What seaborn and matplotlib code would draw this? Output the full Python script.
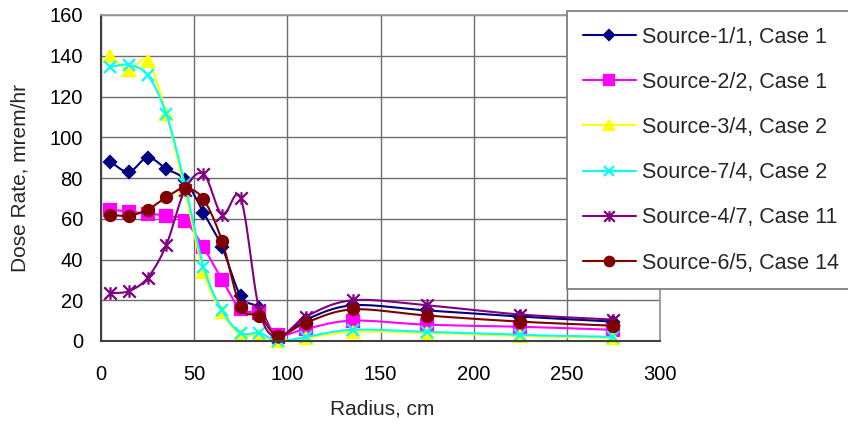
import numpy as np
import pandas as pd
import matplotlib
matplotlib.use("Agg")
import matplotlib.pyplot as plt
from matplotlib.lines import Line2D
from matplotlib.path import Path
import seaborn as sns

# ---------------- data ----------------
radius = [5, 15, 25, 35, 45, 55, 65, 75, 85, 95, 110, 135, 175, 225, 275]
s1_1 = [88, 83, 90, 84.5, 79, 63, 46, 22, 16, 2.5, 10.5, 17.5, 15, 12, 9.5]
s2_2 = [64.5, 63.5, 62.5, 61.5, 59, 46, 30, 15.5, 13.5, 3, 6, 10, 8, 7, 5.5]
s3_4 = [140, 133, 137.5, 111.5, 74, 34, 14, 3, 3, 0, 1.5, 4.5, 4, 2.5, 1.5]
s7_4 = [134.5, 135.5, 130.5, 111.5, 77, 36.5, 15, 4, 4, 0, 2, 5.5, 4.5, 3, 2]
s4_7 = [23.5, 24.5, 31, 47, 74, 82, 62, 70, 15, 2, 12, 20, 17.5, 13, 10.5]
s6_5 = [62, 61.5, 64.5, 70.5, 75, 69.5, 49, 16.5, 12.5, 2.5, 9, 15.5, 12.5, 9.5, 7.5]

labels = ["Source-1/1, Case 1", "Source-2/2, Case 1", "Source-3/4, Case 2",
          "Source-7/4, Case 2", "Source-4/7, Case 11", "Source-6/5, Case 14"]
x_ticks = [0, 50, 100, 150, 200, 250, 300]
y_ticks = [0, 20, 40, 60, 80, 100, 120, 140, 160]

series = [s1_1, s2_2, s3_4, s7_4, s4_7, s6_5]
colors = ["#000080", "#FF00FF", "#FFFF00", "#00FFFF", "#800080", "#800000"]

star = Path([(0, -1), (0, 1), (-1, -1), (1, 1), (-1, 1), (1, -1)],
            [Path.MOVETO, Path.LINETO, Path.MOVETO, Path.LINETO, Path.MOVETO, Path.LINETO])
markers = ["D", "s", "^", "x", star, "o"]
msizes = [6, 8, 9, 9, 9, 8]

# ---------------- style ----------------
sns.set_style("white")
plt.rcParams["font.family"] = ["Liberation Sans", "DejaVu Sans"]

W, H = 848, 430
fig = plt.figure(figsize=(W / 100, H / 100), dpi=100)
L, R, T, B = 101, 660, 15, 341
ax = fig.add_axes([L / W, (H - B) / H, (R - L) / W, (B - T) / H])

xmin, xmax, ymin, ymax = 0, 300, 0, 160
sx = (R - L) / (xmax - xmin)
sy = (B - T) / (ymax - ymin)


def smooth(x, y, n=24):
    P = np.column_stack([np.asarray(x, float) * sx, np.asarray(y, float) * sy])
    out = []
    m = len(P)
    for i in range(m - 1):
        p0 = P[i - 1] if i > 0 else P[i]
        p1, p2 = P[i], P[i + 1]
        p3 = P[i + 2] if i + 2 < m else P[i + 1]
        c1 = p1 + (p2 - p0) / 6.0
        c2 = p2 - (p3 - p1) / 6.0
        t = np.linspace(0, 1, n, endpoint=(i == m - 2))[:, None]
        Bz = (1 - t) ** 3 * p1 + 3 * (1 - t) ** 2 * t * c1 + 3 * (1 - t) * t ** 2 * c2 + t ** 3 * p2
        out.append(Bz)
    out = np.vstack(out)
    return out[:, 0] / sx, out[:, 1] / sy


for vals, c, mk, ms, lab in zip(series, colors, markers, msizes, labels):
    xs, ys = smooth(radius, vals)
    df = pd.DataFrame({"x": xs, "y": ys})
    sns.lineplot(data=df, x="x", y="y", ax=ax, color=c, lw=1.5, sort=False,
                 estimator=None, legend=False, clip_on=False)
    ax.plot(radius, vals, linestyle="none", marker=mk, ms=ms, color=c,
            mfc=c, mec=c, mew=1.6, clip_on=False)

ax.set_xlim(xmin, xmax)
ax.set_ylim(ymin, ymax)
ax.set_xticks(x_ticks)
ax.set_yticks(y_ticks)
ax.tick_params(axis="both", length=0, labelsize=14.5, colors="black")
ax.tick_params(axis="x", pad=17)
ax.tick_params(axis="y", pad=13)

ax.grid(True, color="#6e6e6e", lw=1.0)
ax.set_axisbelow(True)
for side in ["top", "right"]:
    ax.spines[side].set_color("#9a9a9a")
    ax.spines[side].set_linewidth(1.3)
for side in ["left", "bottom"]:
    ax.spines[side].set_color("#404040")
    ax.spines[side].set_linewidth(1.5)

ax.set_xlabel("Radius, cm", fontsize=15)
ax.xaxis.set_label_coords((382 - L) / (R - L), (B - 409) / (B - T))
ax.xaxis.label.set_verticalalignment("center")
ax.set_ylabel("Dose Rate, mrem/hr", fontsize=15)
ax.yaxis.set_label_coords((20 - L) / (R - L), (B - 178) / (B - T))
ax.yaxis.label.set_verticalalignment("center")

handles = [Line2D([], [], color=c, lw=1.5, marker=mk, ms=(ms * 0.85), mfc=c, mec=c, mew=1.6)
           for c, mk, ms in zip(colors, markers, msizes)]
leg = ax.legend(handles, labels, loc="upper left", mode="expand",
                bbox_to_anchor=(567 / W, 0, (853 - 567) / W, 1 - 11 / H),
                bbox_transform=fig.transFigure,
                fontsize=15.5, frameon=True, fancybox=False, framealpha=1,
                edgecolor="#808080", borderpad=0.72, handlelength=2.5,
                handletextpad=0.28, labelspacing=1.125, borderaxespad=0)
leg.get_frame().set_linewidth(1.3)
leg.set_zorder(10)

fig.savefig("out.png", dpi=100)
